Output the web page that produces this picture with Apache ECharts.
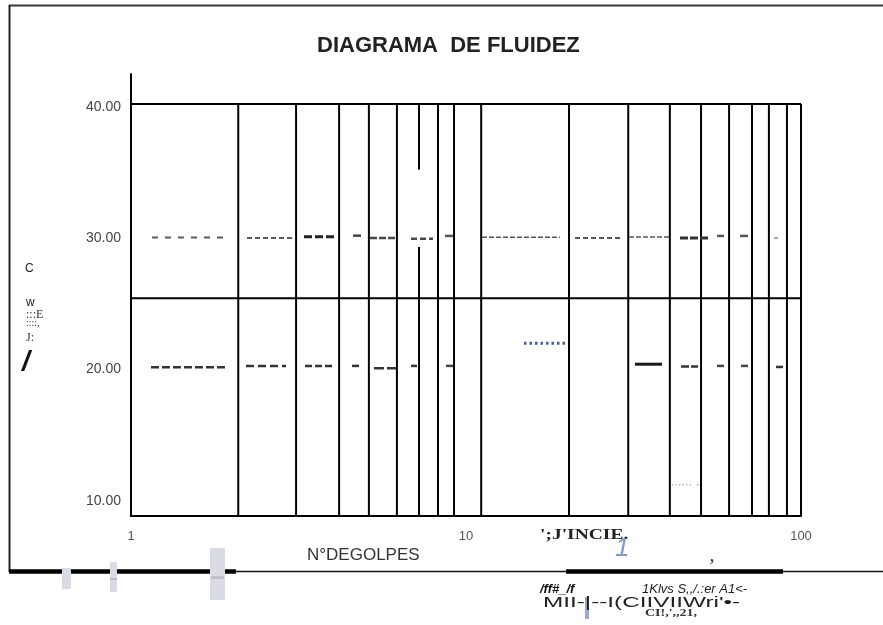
<!DOCTYPE html>
<html><head><meta charset="utf-8">
<script src="https://cdn.jsdelivr.net/npm/echarts@6/dist/echarts.min.js"></script>
<style>html,body{margin:0;padding:0;background:#fff}#c{width:883px;height:625px}</style>
</head><body><div id="c"></div>
<script>
// ---- data ----
const titleText = 'DIAGRAMA  DE FLUIDEZ';
const xAxisName = 'N°DEGOLPES';
const xMin = 1, xMax = 100;
const yMin = 8.62, yMax = 42.28;
const yTickValues = [10, 20, 30, 40];
const frameTopY = 40;
const midLineY = 25.2;
const gridX = [2.09, 3.11, 4.18, 5.13, 6.22, 8.25, 9.21, 11.1, 20.3, 30.5, 40.6, 50.3, 61.0, 71.4, 80.2, 90.8, 100];
const brokenGridX = 7.24;
const brokenGridGap = [29.1, 35.0];

const row30Start = [1.155, 2.22, 3.284, 4.60, 5.17, 6.853, 8.657, 11.16, 21.16, 30.66, 43.53, 56.14, 65.77, 83.08];
const row30End   = [1.975, 3.044, 4.121, 4.86, 6.18, 7.97, 9.147, 19.08, 29.42, 40.36, 53.50, 58.90, 69.48, 85.39];
const row30Y     = [29.82, 29.79, 29.89, 29.97, 29.79, 29.74, 29.95, 29.85, 29.79, 29.87, 29.79, 29.95, 29.95, 29.79];

const row20Start = [1.147, 2.204, 3.307, 4.568, 5.313, 6.853, 8.715, 31.95, 43.83, 56.14, 66.22, 84.23];
const row20End   = [1.921, 2.901, 4.036, 4.792, 6.18, 7.141, 9.147, 38.47, 49.27, 58.90, 69.48, 88.37];
const row20Y     = [19.95, 20.05, 20.05, 20.05, 19.87, 20.05, 20.05, 20.18, 20.00, 20.05, 20.05, 19.97];

const blueDotX = [14.9, 19.75];
const blueDotY = 21.77;
const paleDotX = [41.2, 47.6];
const paleDotY = 11.0;
const paleDot2X = [48.9, 49.5];

// ---- styles (kept separate from data) ----
const S = (color, width, type) => ({color, width, type, cap: 'butt'});
const row30Style = [
  S('#5a5a5a', 2, [6, 7]), S('#5a5a5a', 2, [5, 3]), S('#222', 3, [8, 3]), S('#444', 2.5, 'solid'),
  S('#4a4a4a', 2.5, [7, 2]), S('#4a4a4a', 2.5, [6, 3]), S('#555', 2.5, 'solid'), S('#555', 1.5, [5, 2]),
  S('#555', 2, [5, 3]), S('#555', 1.5, [5, 2]), S('#333', 3, [8, 2]), S('#555', 2.5, 'solid'),
  S('#555', 2.5, 'solid'), S('#888', 1.5, 'solid')
];
const row20Style = [
  S('#333', 2.5, [8, 3]), S('#333', 2.5, [8, 4]), S('#333', 2.5, [7, 3]), S('#333', 2.5, 'solid'),
  S('#333', 2.5, [10, 3]), S('#333', 2.5, 'solid'), S('#444', 2.5, 'solid'), S('#1a1a1a', 3, 'solid'),
  S('#333', 2.5, [8, 2]), S('#444', 2.5, 'solid'), S('#444', 2.5, 'solid'), S('#333', 2.5, 'solid')
];

function seg(x1, x2, y, style) {
  return {type: 'line', data: [[x1, y], [x2, y]], symbol: 'none', lineStyle: style,
          clip: false, silent: true, animation: false, z: 3};
}
function vseg(x, y1, y2, style) {
  return {type: 'line', data: [[x, y1], [x, y2]], symbol: 'none', lineStyle: style,
          clip: false, silent: true, animation: false, z: 2};
}

const series = [];
const blk = S('#000', 2, 'solid');
series.push(seg(xMin, xMax, frameTopY, blk));
series.push(seg(xMin, xMax, midLineY, blk));
gridX.forEach(x => series.push(vseg(x, yMin, frameTopY, blk)));
series.push(vseg(brokenGridX, yMin, brokenGridGap[0], blk));
series.push(vseg(brokenGridX, brokenGridGap[1], frameTopY, blk));
row30Start.forEach((s, i) => series.push(seg(s, row30End[i], row30Y[i], row30Style[i])));
row20Start.forEach((s, i) => series.push(seg(s, row20End[i], row20Y[i], row20Style[i])));
series.push(seg(blueDotX[0], blueDotX[1], blueDotY, {color: '#3f62a0', width: 3, type: [2.5, 3], cap: 'butt'}));
series.push(seg(paleDotX[0], paleDotX[1], paleDotY, {color: '#a8bbe0', width: 1.5, type: [1.5, 2], cap: 'butt'}));
series.push(seg(paleDot2X[0], paleDot2X[1], paleDotY, {color: '#a8bbe0', width: 1.5, type: 'solid', cap: 'butt'}));

const F = 'Liberation Sans, Arial, sans-serif';
const FS = 'Liberation Serif, Times New Roman, serif';
function txt(text, left, top, font, fill, extra) {
  return Object.assign({type: 'text', left, top, silent: true, style: {text, font, fill}}, extra || {});
}
function ln(x1, y1, x2, y2, stroke, w) {
  return {type: 'line', silent: true, shape: {x1, y1, x2, y2}, style: {stroke, lineWidth: w}};
}
function rc(x, y, width, height, fill) {
  return {type: 'rect', silent: true, shape: {x, y, width, height}, style: {fill}};
}

const chart = echarts.init(document.getElementById('c'), null, {renderer: 'canvas'});
chart.setOption({
  animation: false,
  backgroundColor: '#fff',
  title: {text: titleText, left: 317, top: 35, padding: 0,
          textStyle: {fontFamily: F, fontWeight: 'bold', fontSize: 22, color: '#222'}},
  grid: {left: 131, right: 82, top: 74, bottom: 109, containLabel: false},
  xAxis: {type: 'log', logBase: 10, min: xMin, max: xMax,
          axisLine: {show: true, onZero: false, lineStyle: {color: '#000', width: 2}},
          axisTick: {show: false}, splitLine: {show: false}, minorTick: {show: false},
          axisLabel: {color: '#555', fontSize: 13, margin: 14, fontFamily: F}},
  yAxis: {type: 'value', min: yMin, max: yMax, splitNumber: 3,
          axisLine: {show: true, onZero: false, lineStyle: {color: '#000', width: 2}},
          axisTick: {show: false}, splitLine: {show: false},
          axisLabel: {color: '#444', fontSize: 14, margin: 10, fontFamily: F,
            rich: {a: {color: '#444', fontSize: 14, fontFamily: F, padding: [6, 0, 0, 0]}},
            formatter: v => yTickValues.some(t => Math.abs(t - v) < 1e-6) ? '{a|' + v.toFixed(2) + '}' : ''}},
  series,
  graphic: [
    ln(9, 5.5, 883, 5.5, '#3a3a3a', 2),
    ln(9.5, 5, 9.5, 572, '#222', 2),
    ln(9, 571.5, 883, 571.5, '#111', 1.5),
    ln(9, 571.5, 236, 571.5, '#000', 4.5),
    ln(566, 571.5, 783, 571.5, '#000', 4.5),
    rc(62, 568, 9, 21, '#d9dbe7'),
    rc(110, 562, 7, 30, '#d9dbe7'),
    rc(210, 548, 15, 52, '#d9dbe7'),
    rc(110, 578, 7, 2, '#bdbdc6'),
    rc(211, 576, 13, 3, '#c0c0c8'),
    rc(585, 597, 4, 22, '#9aaad2'),
    txt('C', 25, 263, '12px ' + F, '#222'),
    txt('w', 26, 297, '12px ' + F, '#222'),
    txt(':::E', 26, 309, '12px ' + FS, '#333'),
    txt('::::,', 26, 318, '10px ' + FS, '#333'),
    txt('J:', 26, 332, '12px ' + FS, '#333'),
    txt('/', 22, 348, 'italic bold 28px ' + F, '#111'),
    txt(xAxisName, 307, 547, '17px ' + F, '#333'),
    txt("';J'INCIE.", 540, 528, 'bold 15px ' + FS, '#222', {scaleX: 1.3}),
    txt('1', 615, 536, 'italic 26px ' + F, '#7f9acb'),
    txt(',', 710, 550, 'bold 16px ' + FS, '#444'),
    txt('/ff#_/f', 540, 583, 'italic bold 13px ' + F, '#111'),
    txt('1Klvs S,,/.:er A1<-', 642, 583, 'italic 13px ' + F, '#222'),
    txt("MII-|--I(CIIVIIWri'•-", 543, 595, '15px ' + F, '#222', {scaleX: 1.62}),
    txt("CI!,',,21,", 645, 608, 'bold 10px ' + FS, '#333', {scaleX: 1.4})
  ]
});
</script></body></html>
